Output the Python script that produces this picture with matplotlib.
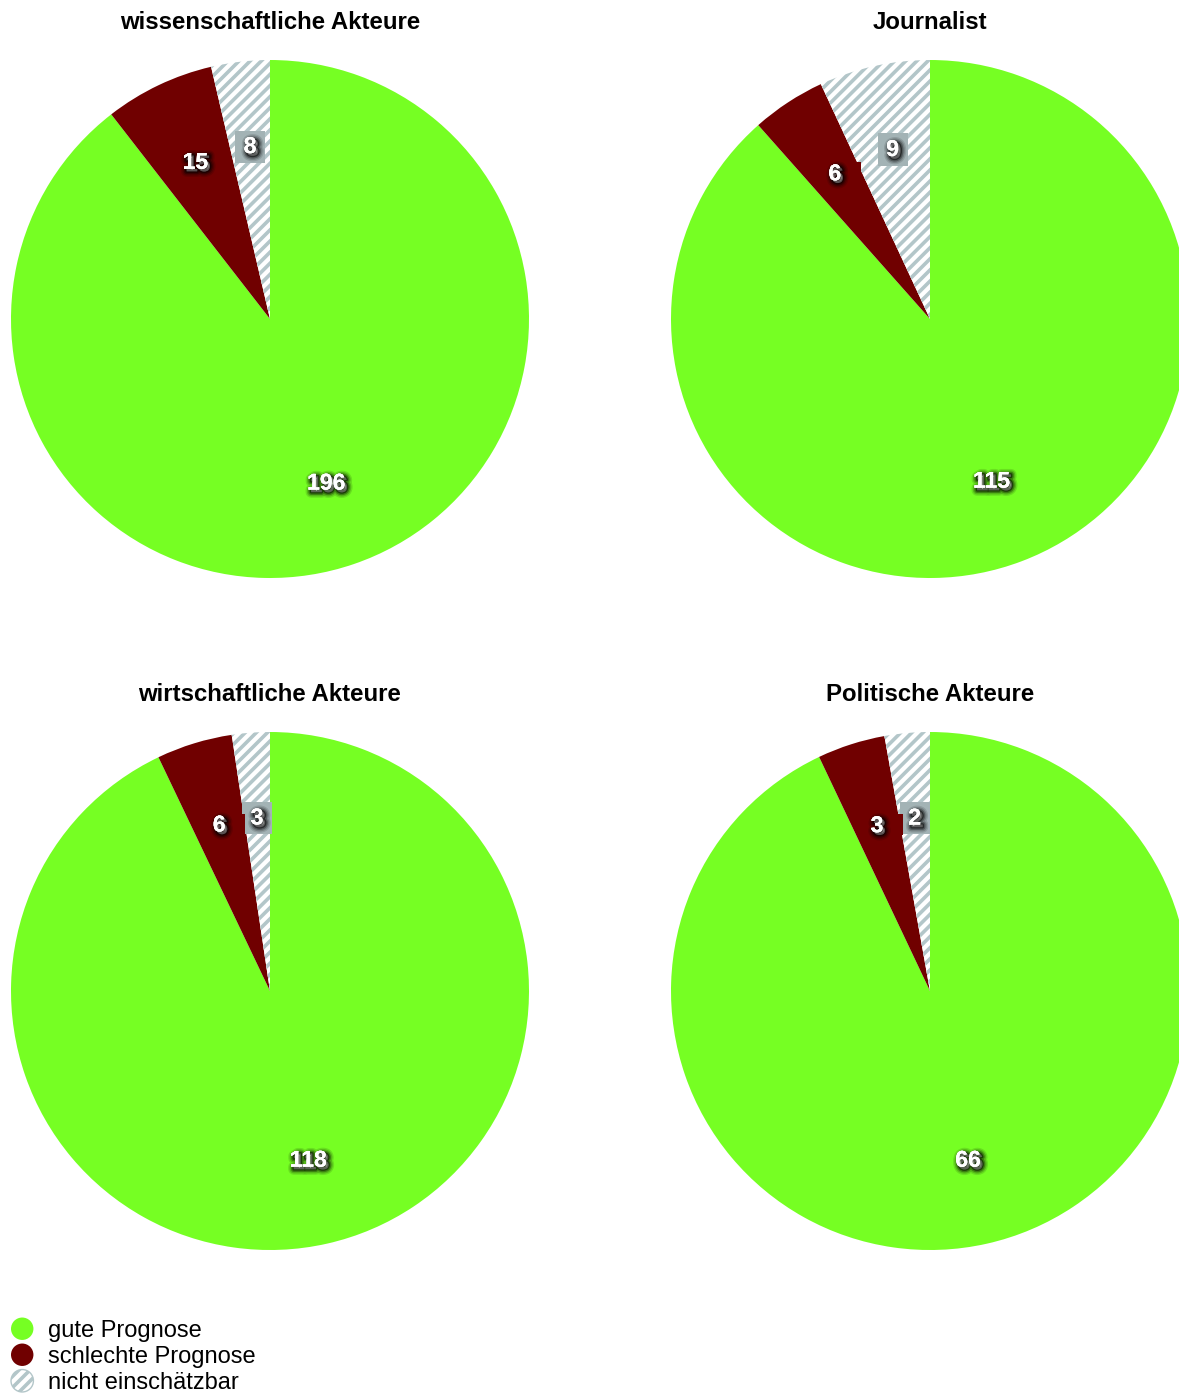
import matplotlib
matplotlib.use("Agg")
import matplotlib.pyplot as plt
import matplotlib.patheffects as pe
from matplotlib.path import Path
from matplotlib.patches import Circle, Wedge
from matplotlib.legend_handler import HandlerPatch

plt.rcParams['font.family'] = ['Liberation Sans', 'DejaVu Sans']
plt.rcParams['hatch.linewidth'] = 2.6

# Prognosen je Akteursgruppe
titles = ['wissenschaftliche Akteure', 'Journalist',
          'wirtschaftliche Akteure', 'Politische Akteure']
categories = ['gute Prognose', 'schlechte Prognose', 'nicht einschätzbar']
gute = [196, 115, 118, 66]
schlechte = [15, 6, 6, 3]
unklar = [8, 9, 3, 2]

colors = ['#76ff23', '#700000', 'white']
hatches = [None, None, '///']
box_colors = ['#76ff23', '#700000', '#a3b3b5']
hatch_color = '#b3c6c9'

W, H = 1179, 1394
R = 259
centers = [(270, 319), (930, 319), (270, 991), (930, 991)]


def label_box(left, right, bottom, top):
    # rectangle with its own padding on every side
    def box(x0, y0, width, height, mutation_size):
        l, r = left * mutation_size, right * mutation_size
        b, t = bottom * mutation_size, top * mutation_size
        return Path([(x0 - l, y0 - b), (x0 + width + r, y0 - b),
                     (x0 + width + r, y0 + height + t),
                     (x0 - l, y0 + height + t), (x0 - l, y0 - b)],
                    closed=True)
    return box


class HandlerCircle(HandlerPatch):
    def create_artists(self, legend, orig_handle, xdescent, ydescent,
                       width, height, fontsize, trans):
        c = Circle((width / 2 - xdescent, height / 2 - ydescent), width / 2)
        self.update_prop(c, orig_handle, legend)
        if orig_handle.get_hatch():
            c.set_linewidth(1)
        c.set_transform(trans)
        return [c]


# soft dark shadow under the value labels
shadow = [pe.withStroke(linewidth=lw, foreground='black', alpha=a, offset=(1.8, -1.8))
          for lw, a in [(8, 0.12), (6, 0.18), (4, 0.3), (2, 0.5)]] + [pe.Normal()]

fig = plt.figure(figsize=(W / 100, H / 100), dpi=100)

wedges_all = []
for i, (cx, cy) in enumerate(centers):
    ax = fig.add_axes([(cx - R) / W, 1 - (cy + R) / H, 2 * R / W, 2 * R / H])
    vals = [gute[i], schlechte[i], unklar[i]]
    total = sum(vals)
    wedges, _, autotexts = ax.pie(
        vals, colors=colors, startangle=90, counterclock=False,
        autopct=lambda p, t=total: '%d' % round(p * t / 100),
        pctdistance=0.67, wedgeprops=dict(linewidth=0))
    for w, h in zip(wedges, hatches):
        if h:
            w.set_hatch(h)
            w.set_edgecolor(hatch_color)
            w.set_linewidth(0)
    for j, t in enumerate(autotexts):
        t.set_color('white')
        t.set_fontsize(16.5)
        t.set_fontweight('bold')
        t.set_path_effects(shadow)
        if j == 1:
            t.set_bbox(dict(boxstyle=label_box(0.2, 0.85, -0.1, 0.0),
                            facecolor=box_colors[j], edgecolor='none'))
            t.set_zorder(6)
        elif j == 2:
            t.set_bbox(dict(boxstyle=label_box(0.38, 0.38, 0.2, 0.2),
                            facecolor=box_colors[j], edgecolor='none'))
            t.set_zorder(5)
    ax.set_xlim(-1, 1)
    ax.set_ylim(-1, 1)
    ax.set_title(titles[i], fontsize=17.3, fontweight='bold', pad=22)
    wedges_all.append(wedges)

fig.legend(wedges_all[0], categories, loc='upper left',
           bbox_to_anchor=(11 / W, 1 - 1320 / H), frameon=False,
           fontsize=17, handlelength=0.95, handletextpad=0.62,
           labelspacing=0.17, borderpad=0, borderaxespad=0,
           handler_map={Wedge: HandlerCircle()})

fig.savefig('out.png', dpi=100)
